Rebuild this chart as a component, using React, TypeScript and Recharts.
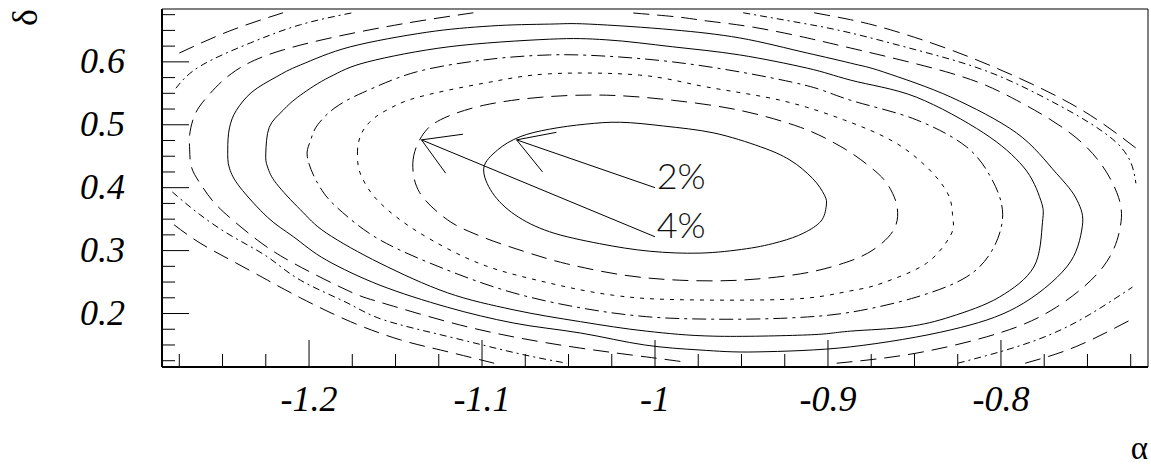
import React from "react";
import {
  ScatterChart,
  Scatter,
  XAxis,
  YAxis,
  ReferenceArea,
  ReferenceLine,
  ReferenceDot,
} from "recharts";

type Pt = [number, number];

// contour lines, [alpha, delta]
const c1: Pt[] = [
  [-1.099, 0.431], [-1.091, 0.46], [-1.078, 0.481], [-1.061, 0.493], [-1.04, 0.501],
  [-1.02, 0.504], [-0.995, 0.498], [-0.966, 0.487], [-0.939, 0.465], [-0.922, 0.444],
  [-0.909, 0.415], [-0.902, 0.388], [-0.901, 0.371], [-0.904, 0.347], [-0.914, 0.328],
  [-0.928, 0.314], [-0.947, 0.303], [-0.974, 0.296], [-1.003, 0.299], [-1.032, 0.311],
  [-1.061, 0.33], [-1.081, 0.357], [-1.094, 0.392],
];
const c2: Pt[] = [
  [-1.14, 0.439], [-1.135, 0.481], [-1.124, 0.508], [-1.099, 0.531], [-1.065, 0.544],
  [-1.028, 0.547], [-0.99, 0.539], [-0.951, 0.523], [-0.916, 0.496], [-0.893, 0.466],
  [-0.877, 0.436], [-0.866, 0.407], [-0.86, 0.369], [-0.862, 0.333], [-0.874, 0.301],
  [-0.891, 0.28], [-0.916, 0.263], [-0.951, 0.253], [-0.986, 0.253], [-1.018, 0.261],
  [-1.051, 0.279], [-1.076, 0.299], [-1.101, 0.323], [-1.12, 0.349], [-1.136, 0.392],
];
const c3: Pt[] = [
  [-1.172, 0.457], [-1.17, 0.484], [-1.165, 0.504], [-1.156, 0.522], [-1.138, 0.543],
  [-1.099, 0.566], [-1.061, 0.581], [-1.009, 0.579], [-0.97, 0.56], [-0.926, 0.538],
  [-0.891, 0.508], [-0.862, 0.473], [-0.843, 0.433], [-0.831, 0.392], [-0.828, 0.357],
  [-0.829, 0.325], [-0.843, 0.28], [-0.868, 0.249], [-0.887, 0.236], [-0.92, 0.223],
  [-0.986, 0.222], [-1.024, 0.229], [-1.062, 0.249], [-1.101, 0.279], [-1.136, 0.328],
  [-1.159, 0.376], [-1.17, 0.42],
];
const c4: Pt[] = [
  [-1.201, 0.449], [-1.199, 0.476], [-1.195, 0.5], [-1.185, 0.527], [-1.169, 0.551],
  [-1.138, 0.584], [-1.099, 0.603], [-1.061, 0.611], [-1.028, 0.609], [-0.99, 0.6],
  [-0.951, 0.584], [-0.912, 0.562], [-0.887, 0.539], [-0.849, 0.508], [-0.82, 0.465],
  [-0.805, 0.412], [-0.799, 0.357], [-0.805, 0.301], [-0.82, 0.258], [-0.849, 0.226],
  [-0.887, 0.202], [-0.922, 0.193], [-0.966, 0.191], [-1.005, 0.195], [-1.043, 0.209],
  [-1.082, 0.233], [-1.12, 0.269], [-1.159, 0.317], [-1.184, 0.369], [-1.195, 0.407],
];
const c5: Pt[] = [
  [-1.225, 0.455], [-1.223, 0.496], [-1.215, 0.523], [-1.205, 0.547], [-1.188, 0.576],
  [-1.166, 0.6], [-1.119, 0.624], [-1.061, 0.636], [-1.028, 0.635], [-0.99, 0.624],
  [-0.951, 0.611], [-0.912, 0.59], [-0.887, 0.571], [-0.849, 0.544], [-0.81, 0.487],
  [-0.787, 0.433], [-0.777, 0.38], [-0.776, 0.345], [-0.781, 0.274], [-0.801, 0.226],
  [-0.829, 0.195], [-0.854, 0.179], [-0.887, 0.172], [-0.912, 0.166], [-0.966, 0.164],
  [-1.005, 0.172], [-1.043, 0.187], [-1.082, 0.206], [-1.12, 0.233], [-1.159, 0.28],
  [-1.19, 0.328], [-1.205, 0.365], [-1.219, 0.407], [-1.224, 0.433],
];
const c6: Pt[] = [
  [-1.247, 0.46], [-1.246, 0.495], [-1.242, 0.523], [-1.233, 0.552], [-1.219, 0.576],
  [-1.205, 0.595], [-1.176, 0.624], [-1.132, 0.647], [-1.095, 0.657], [-1.061, 0.66],
  [-1.038, 0.66], [-0.99, 0.651], [-0.951, 0.638], [-0.912, 0.614], [-0.887, 0.598],
  [-0.868, 0.584], [-0.829, 0.544], [-0.791, 0.487], [-0.768, 0.423], [-0.756, 0.38],
  [-0.753, 0.338], [-0.762, 0.274], [-0.791, 0.21], [-0.829, 0.174], [-0.887, 0.147],
  [-0.941, 0.139], [-0.974, 0.142], [-1.006, 0.15], [-1.043, 0.169], [-1.082, 0.185],
  [-1.12, 0.21], [-1.159, 0.245], [-1.19, 0.285], [-1.209, 0.322], [-1.224, 0.353],
  [-1.24, 0.401], [-1.246, 0.431],
];
// outer levels are cut by the edge of the grid, so they come in pieces
const c7a: Pt[] = [
  [-1.105, 0.678], [-1.157, 0.655], [-1.215, 0.619], [-1.245, 0.581], [-1.259, 0.544],
  [-1.266, 0.516], [-1.269, 0.484], [-1.269, 0.46], [-1.268, 0.433], [-1.263, 0.407],
  [-1.256, 0.38], [-1.246, 0.353], [-1.23, 0.317], [-1.209, 0.28], [-1.178, 0.237],
  [-1.159, 0.218], [-1.12, 0.187], [-1.082, 0.163], [-1.043, 0.145], [-1.005, 0.131],
  [-0.983, 0.123],
];
const c7b: Pt[] = [
  [-0.895, 0.121], [-0.849, 0.137], [-0.801, 0.169], [-0.768, 0.21], [-0.741, 0.274],
  [-0.731, 0.338], [-0.733, 0.392], [-0.753, 0.471], [-0.791, 0.539], [-0.829, 0.582],
  [-0.887, 0.622], [-0.912, 0.638], [-0.943, 0.655], [-0.97, 0.665], [-0.986, 0.671],
  [-1.014, 0.678],
];
const c8a: Pt[] = [[-1.277, 0.558], [-1.263, 0.593], [-1.234, 0.63], [-1.205, 0.659], [-1.175, 0.678]];
const c8b: Pt[] = [
  [-1.279, 0.393], [-1.263, 0.357], [-1.244, 0.322], [-1.224, 0.29], [-1.205, 0.253],
  [-1.178, 0.217], [-1.157, 0.19], [-1.119, 0.163], [-1.08, 0.137], [-1.051, 0.121],
];
const c8c: Pt[] = [
  [-0.949, 0.678], [-0.916, 0.662], [-0.887, 0.646], [-0.849, 0.619], [-0.81, 0.587],
  [-0.772, 0.539], [-0.733, 0.471], [-0.722, 0.407],
];
const c8d: Pt[] = [[-0.825, 0.121], [-0.797, 0.142], [-0.772, 0.166], [-0.749, 0.198], [-0.724, 0.242]];
const c9a: Pt[] = [[-1.275, 0.614], [-1.246, 0.649], [-1.215, 0.678]];
const c9b: Pt[] = [
  [-1.278, 0.341], [-1.263, 0.312], [-1.244, 0.283], [-1.224, 0.253], [-1.205, 0.225],
  [-1.176, 0.187], [-1.147, 0.158], [-1.124, 0.142], [-1.093, 0.121],
];
const c9c: Pt[] = [
  [-0.908, 0.678], [-0.887, 0.667], [-0.864, 0.651], [-0.829, 0.619], [-0.791, 0.576],
  [-0.753, 0.523], [-0.722, 0.463],
];
const c9d: Pt[] = [[-0.786, 0.121], [-0.757, 0.147], [-0.725, 0.19]];

// level labels and their arrows
const levelNames = ["2%", "4%"];
const labelAt: Pt[] = [[-0.999, 0.419], [-0.999, 0.34]];
const arrowTails: Pt[] = [[-1.0, 0.4], [-1.0, 0.322]];
const arrowTips: Pt[] = [[-1.08, 0.476], [-1.135, 0.476]];
const wingUp: Pt[] = [[-1.057, 0.488], [-1.111, 0.485]];
const wingDown: Pt[] = [[-1.065, 0.425], [-1.121, 0.423]];

const xMajor = [-1.2, -1.1, -1, -0.9, -0.8];
const xMinor = [
  -1.275, -1.25, -1.225, -1.175, -1.15, -1.125, -1.075, -1.05, -1.025,
  -0.975, -0.95, -0.925, -0.875, -0.85, -0.825, -0.775, -0.75, -0.725,
];
const yMajor = [0.2, 0.3, 0.4, 0.5, 0.6];
const yMinor = [
  0.125, 0.15, 0.175, 0.225, 0.25, 0.275, 0.325, 0.35, 0.375,
  0.425, 0.45, 0.475, 0.525, 0.55, 0.575, 0.625, 0.65, 0.675,
];
const xTitle = "α";
const yTitle = "δ";

const X_DOMAIN: [number, number] = [-1.285, -0.715];
const Y_DOMAIN: [number, number] = [0.115, 0.684];

const LONG = "16 8";
const DOTS = "4 6";
const DASHDOT = "14 5 3 5";
const DASHDOTS = "7 4 2 4";

const closedLevels = [
  { id: "c1", pts: c1, dash: undefined },
  { id: "c2", pts: c2, dash: LONG },
  { id: "c3", pts: c3, dash: DOTS },
  { id: "c4", pts: c4, dash: DASHDOT },
  { id: "c5", pts: c5, dash: undefined },
  { id: "c6", pts: c6, dash: undefined },
];
const openPieces = [
  { id: "c7a", pts: c7a, dash: LONG },
  { id: "c7b", pts: c7b, dash: LONG },
  { id: "c8a", pts: c8a, dash: DASHDOTS },
  { id: "c8b", pts: c8b, dash: DASHDOTS },
  { id: "c8c", pts: c8c, dash: DASHDOTS },
  { id: "c8d", pts: c8d, dash: DASHDOTS },
  { id: "c9a", pts: c9a, dash: LONG },
  { id: "c9b", pts: c9b, dash: LONG },
  { id: "c9c", pts: c9c, dash: LONG },
  { id: "c9d", pts: c9d, dash: LONG },
];

const toData = (pts: Pt[]) => pts.map(([a, d]) => ({ a, d }));
const isMajor = (v: number, majors: number[]) => majors.some((m) => Math.abs(m - v) < 1e-6);
const xTicks = [...xMajor, ...xMinor].sort((p, q) => p - q);
const yTicks = [...yMajor, ...yMinor].sort((p, q) => p - q);

// closed catmull-rom, used as a d3 curve factory by Curve
function closedSpline(context: any) {
  let pts: number[][] = [];
  return {
    areaStart() {},
    areaEnd() {},
    lineStart() {
      pts = [];
    },
    point(x: number, y: number) {
      pts.push([+x, +y]);
    },
    lineEnd() {
      const n = pts.length;
      if (n < 3) return;
      context.moveTo(pts[0][0], pts[0][1]);
      for (let i = 0; i < n; i++) {
        const p0 = pts[(i + n - 1) % n];
        const p1 = pts[i];
        const p2 = pts[(i + 1) % n];
        const p3 = pts[(i + 2) % n];
        context.bezierCurveTo(
          p1[0] + (p2[0] - p0[0]) / 6,
          p1[1] + (p2[1] - p0[1]) / 6,
          p2[0] - (p3[0] - p1[0]) / 6,
          p2[1] - (p3[1] - p1[1]) / 6,
          p2[0],
          p2[1]
        );
      }
      context.closePath();
    },
  };
}

const noDot = () => <g />;

const SERIF = "'Liberation Serif', 'Times New Roman', serif";

// ticks point into the frame, like the original
const XTick = (props: any) => {
  const { x, y, payload } = props;
  const major = isMajor(payload.value, xMajor);
  return (
    <g>
      <line x1={x} x2={x} y1={y} y2={y - (major ? 27 : 13)} stroke="#000" strokeWidth={1} />
      {major && (
        <text
          x={x}
          y={y + 44}
          textAnchor="middle"
          fontFamily={SERIF}
          fontStyle="italic"
          fontWeight="normal"
          fontSize={36}
          fill="#000"
          stroke="none"
        >
          {String(payload.value)}
        </text>
      )}
    </g>
  );
};

const YTick = (props: any) => {
  const { x, y, payload } = props;
  const major = isMajor(payload.value, yMajor);
  return (
    <g>
      <line x1={x} x2={x + (major ? 27 : 13)} y1={y} y2={y} stroke="#000" strokeWidth={1} />
      {major && (
        <text
          x={x - 37}
          y={y + 11}
          textAnchor="end"
          fontFamily={SERIF}
          fontStyle="italic"
          fontWeight="normal"
          fontSize={36}
          fill="#000"
          stroke="none"
        >
          {String(payload.value)}
        </text>
      )}
    </g>
  );
};

export default function App() {
  return (
    <div style={{ position: "absolute", left: 0, top: 0, width: 1151, height: 469 }}>
      <ScatterChart width={1151} height={469} margin={{ top: 9, right: 3, bottom: 0, left: 0 }}>
        <XAxis
          dataKey="a"
          type="number"
          domain={X_DOMAIN}
          allowDataOverflow
          ticks={xTicks}
          interval={0}
          height={102}
          tickSize={0}
          tickMargin={0}
          tickLine={false}
          stroke="#000"
          axisLine={{ stroke: "#000", strokeWidth: 2 }}
          tick={XTick}
        />
        <YAxis
          dataKey="d"
          type="number"
          domain={Y_DOMAIN}
          allowDataOverflow
          ticks={yTicks}
          interval={0}
          width={162}
          tickSize={0}
          tickMargin={0}
          tickLine={false}
          stroke="#000"
          axisLine={{ stroke: "#000", strokeWidth: 2 }}
          tick={YTick}
        />
        <ReferenceArea
          x1={X_DOMAIN[0]}
          x2={X_DOMAIN[1]}
          y1={Y_DOMAIN[0]}
          y2={Y_DOMAIN[1]}
          fill="none"
          stroke="#000"
          strokeWidth={1}
          ifOverflow="visible"
        />
        {closedLevels.map((c) => (
          <Scatter
            key={c.id}
            data={toData(c.pts)}
            fill="#000"
            shape={noDot}
            line={{ stroke: "#000", strokeWidth: 1, strokeDasharray: c.dash }}
            lineType="joint"
            lineJointType={closedSpline as any}
            legendType="none"
            isAnimationActive={false}
          />
        ))}
        {openPieces.map((c) => (
          <Scatter
            key={c.id}
            data={toData(c.pts)}
            fill="#000"
            shape={noDot}
            line={{ stroke: "#000", strokeWidth: 1, strokeDasharray: c.dash }}
            lineType="joint"
            lineJointType="natural"
            legendType="none"
            isAnimationActive={false}
          />
        ))}
        {levelNames.map((name, i) => (
          <React.Fragment key={name}>
            <ReferenceLine
              segment={[
                { x: arrowTails[i][0], y: arrowTails[i][1] },
                { x: arrowTips[i][0], y: arrowTips[i][1] },
              ]}
              stroke="#000"
              strokeWidth={1}
              ifOverflow="visible"
            />
            <ReferenceLine
              segment={[
                { x: arrowTips[i][0], y: arrowTips[i][1] },
                { x: wingUp[i][0], y: wingUp[i][1] },
              ]}
              stroke="#000"
              strokeWidth={1}
              ifOverflow="visible"
            />
            <ReferenceLine
              segment={[
                { x: arrowTips[i][0], y: arrowTips[i][1] },
                { x: wingDown[i][0], y: wingDown[i][1] },
              ]}
              stroke="#000"
              strokeWidth={1}
              ifOverflow="visible"
            />
            <ReferenceDot
              x={labelAt[i][0]}
              y={labelAt[i][1]}
              r={0}
              fill="none"
              stroke="none"
              ifOverflow="visible"
              label={{
                value: name,
                position: "right",
                offset: 0,
                fontSize: 36,
                fontFamily: "Lato, 'Open Sans', sans-serif",
                fontWeight: 300,
                fill: "#111",
              }}
            />
          </React.Fragment>
        ))}
      </ScatterChart>
      {/* axis titles, placed like the ROOT canvas puts them */}
      <svg
        width={1151}
        height={469}
        style={{ position: "absolute", left: 0, top: 0, pointerEvents: "none" }}
      >
        <text x={1148} y={459} textAnchor="end" fontFamily={SERIF} fontSize={33} fill="#000">
          {xTitle}
        </text>
        <text
          x={37}
          y={17.5}
          transform="rotate(-90 37 17.5)"
          textAnchor="middle"
          fontFamily={SERIF}
          fontSize={36}
          fill="#000"
        >
          {yTitle}
        </text>
      </svg>
    </div>
  );
}
